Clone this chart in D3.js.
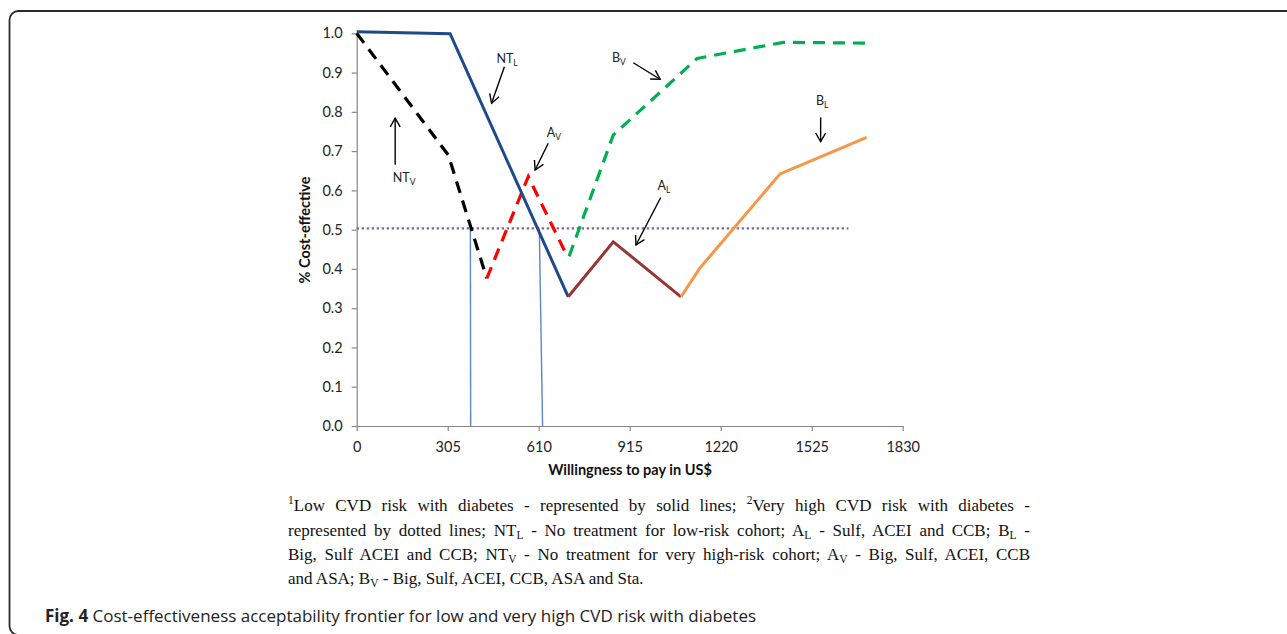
<!DOCTYPE html>
<html>
<head>
<meta charset="utf-8">
<script src="https://cdn.jsdelivr.net/npm/d3@7"></script>
<style>
  body { margin: 0; background: #fff; overflow: hidden; }
  #wrap { position: relative; width: 1287px; height: 634px; }
  svg { position: absolute; left: 0; top: 0; }
  .note {
    position: absolute; left: 288px; width: 742px;
    font-family: "Liberation Serif", "Times New Roman", serif;
    font-size: 17px; line-height: 20px; color: #111;
    white-space: nowrap; text-align: justify; text-align-last: justify;
  }
  .note.last { text-align: left; text-align-last: left; }
  .note sub, .note sup { font-size: 11.5px; line-height: 0; }
  .note sub { vertical-align: -3px; }
  .note sup { vertical-align: 7px; }
</style>
</head>
<body>
<div id="wrap"></div>
<script>
// ---- data -------------------------------------------------------------
const xTicks = [0, 305, 610, 915, 1220, 1525, 1830];
const yTicks = [0, 0.1, 0.2, 0.3, 0.4, 0.5, 0.6, 0.7, 0.8, 0.9, 1.0];

// low CVD risk (solid lines)
const ntLowWtp   = [0, 313, 709];
const ntLowVal   = [1.004, 0.999, 0.329];
const aLowWtp    = [709, 860, 1087];
const aLowVal    = [0.329, 0.469, 0.329];
const bLowWtp    = [1087, 1150, 1419, 1709];
const bLowVal    = [0.329, 0.402, 0.642, 0.735];

// very high CVD risk (dashed lines)
const ntVhWtp    = [0, 307, 436];
const ntVhVal    = [1.0, 0.69, 0.376];
const aVhWtp     = [436, 575, 702];
const aVhVal     = [0.376, 0.635, 0.438];
const bVhWtp     = [712, 860, 1141, 1430, 1709];
const bVhVal     = [0.432, 0.741, 0.936, 0.977, 0.975];

// 50% threshold and the drop lines where each frontier crosses it
const thresholdWtp = [0, 1648];
const thresholdVal = [0.503, 0.503];
const dropVhWtp  = [381, 382];
const dropLowWtp = [612, 623];
const dropVal    = [0.503, 0];

// arrow labels: [main, subscript, labelX, labelY, fromX, fromY, toX, toY]
const annotations = [
  ["NT", "L", 504, 0.935, 495, 0.915, 452, 0.822],
  ["NT", "V", 159, 0.632, 129, 0.665, 129, 0.784],
  ["A",  "V", 661, 0.746, 642, 0.720, 598, 0.652],
  ["B",  "V", 879, 0.937, 927, 0.925, 1017, 0.883],
  ["B",  "L", 1560, 0.828, 1555, 0.786, 1555, 0.724],
  ["A",  "L", 1030, 0.611, 1019, 0.582, 936, 0.461]
];

const xTitle = "Willingness to pay in US$";
const yTitle = "% Cost-effective";

// ---- layout -----------------------------------------------------------
const W = 1287, H = 634;
const wrap = d3.select("#wrap");
const svg = wrap.append("svg").attr("width", W).attr("height", H);

// rounded frame around the figure
svg.append("rect")
  .attr("x", 9.5).attr("y", 11).attr("width", 1300).attr("height", 624)
  .attr("rx", 9).attr("fill", "none")
  .attr("stroke", "#2a2a2a").attr("stroke-width", 1.8);

const x = d3.scaleLinear().domain([0, 1830]).range([356.7, 902.7]);
const y = d3.scaleLinear().domain([0, 1]).range([426, 33.3]);

const axisFont = "Lato, 'Open Sans', sans-serif";
const axisGrey = "#868686";

// x axis
const gx = svg.append("g").attr("transform", `translate(0,${y(0)})`)
  .call(d3.axisBottom(x).tickValues(xTicks).tickSize(5).tickSizeOuter(0)
    .tickPadding(11).tickFormat(d3.format("d")));
// y axis
const gy = svg.append("g").attr("transform", `translate(${x(0)},0)`)
  .call(d3.axisLeft(y).tickValues(yTicks).tickSize(5).tickSizeOuter(0)
    .tickPadding(9).tickFormat(d3.format(".1f")));

[gx, gy].forEach(g => {
  g.select(".domain").attr("stroke", axisGrey).attr("stroke-width", 1.2);
  g.selectAll(".tick line").attr("stroke", axisGrey).attr("stroke-width", 1.2);
  g.selectAll(".tick text").attr("fill", "#222")
    .style("font-family", axisFont).style("font-size", "14.5px");
});

// axis titles
svg.append("text").text(xTitle)
  .attr("x", 630).attr("y", 475).attr("text-anchor", "middle")
  .style("font-family", axisFont).style("font-weight", "bold")
  .style("font-size", "14.5px").attr("fill", "#111");
svg.append("text").text(yTitle)
  .attr("transform", "translate(310,230) rotate(-90)")
  .attr("text-anchor", "middle")
  .style("font-family", axisFont).style("font-weight", "bold")
  .style("font-size", "14.5px").attr("fill", "#111");

// ---- series -----------------------------------------------------------
const line = d3.line().x(d => x(d[0])).y(d => y(d[1]));
const zip = (a, b) => a.map((v, i) => [v, b[i]]);

function drawSeries(xs, ys, color, width, dash) {
  svg.append("path")
    .datum(zip(xs, ys))
    .attr("d", line)
    .attr("fill", "none")
    .attr("stroke", color)
    .attr("stroke-width", width)
    .attr("stroke-linejoin", "miter")
    .attr("stroke-dasharray", dash || null);
}

drawSeries(dropVhWtp, dropVal, "#5b87c5", 1.4);
drawSeries(dropLowWtp, dropVal, "#5b87c5", 1.4);
drawSeries(thresholdWtp, thresholdVal, "#8064A2", 2.2, "2.4 2.6");

drawSeries(ntVhWtp, ntVhVal, "#000000", 3.2, "12 8");
drawSeries(aVhWtp, aVhVal, "#FF0000", 3.2, "12 8");
drawSeries(bVhWtp, bVhVal, "#00B050", 3.2, "12 8");

drawSeries(ntLowWtp, ntLowVal, "#1F4A88", 3);
drawSeries(aLowWtp, aLowVal, "#953735", 3);
drawSeries(bLowWtp, bLowVal, "#F79646", 3);

// ---- arrows with labels -----------------------------------------------
const labelFont = "Lato, 'Open Sans', sans-serif";
annotations.forEach(([main, sub, lx, ly, fx, fy, tx, ty]) => {
  const x1 = x(fx), y1 = y(fy), x2 = x(tx), y2 = y(ty);
  svg.append("line")
    .attr("x1", x1).attr("y1", y1).attr("x2", x2).attr("y2", y2)
    .attr("stroke", "#000").attr("stroke-width", 1.4);
  const ang = Math.atan2(y2 - y1, x2 - x1);
  const len = 10, spread = Math.PI / 6;
  const head = [
    [x2 - len * Math.cos(ang - spread), y2 - len * Math.sin(ang - spread)],
    [x2, y2],
    [x2 - len * Math.cos(ang + spread), y2 - len * Math.sin(ang + spread)]
  ];
  svg.append("polyline")
    .attr("points", head.map(p => p.join(",")).join(" "))
    .attr("fill", "none").attr("stroke", "#000").attr("stroke-width", 1.4);

  const t = svg.append("text")
    .attr("x", x(lx)).attr("y", y(ly) + 4)
    .attr("text-anchor", "middle")
    .style("font-family", labelFont).style("font-size", "12.5px")
    .attr("fill", "#222");
  t.append("tspan").text(main);
  t.append("tspan").text(sub).attr("dy", 3).style("font-size", "8.5px");
});

// ---- footnote and caption ---------------------------------------------
const noteLines = [
  '<sup>1</sup>Low CVD risk with diabetes - represented by solid lines; <sup>2</sup>Very high CVD risk with diabetes -',
  'represented by dotted lines; NT<sub>L</sub> - No treatment for low-risk cohort; A<sub>L</sub> - Sulf, ACEI and CCB; B<sub>L</sub> -',
  'Big, Sulf ACEI and CCB; NT<sub>V</sub> - No treatment for very high-risk cohort; A<sub>V</sub> - Big, Sulf, ACEI, CCB',
  'and ASA; B<sub>V</sub> - Big, Sulf, ACEI, CCB, ASA and Sta.'
];
const noteTops = [496, 521, 545, 569];
noteLines.forEach((html, i) => {
  wrap.append("div")
    .attr("class", "note" + (i === noteLines.length - 1 ? " last" : ""))
    .style("top", noteTops[i] + "px")
    .html(html);
});

const cap = svg.append("text").attr("x", 45).attr("y", 622)
  .style("font-family", "'Open Sans', sans-serif").style("font-size", "17px")
  .attr("fill", "#222");
cap.append("tspan").text("Fig. 4").style("font-weight", "bold");
cap.append("tspan").text(" Cost-effectiveness acceptability frontier for low and very high CVD risk with diabetes");
</script>
</body>
</html>
